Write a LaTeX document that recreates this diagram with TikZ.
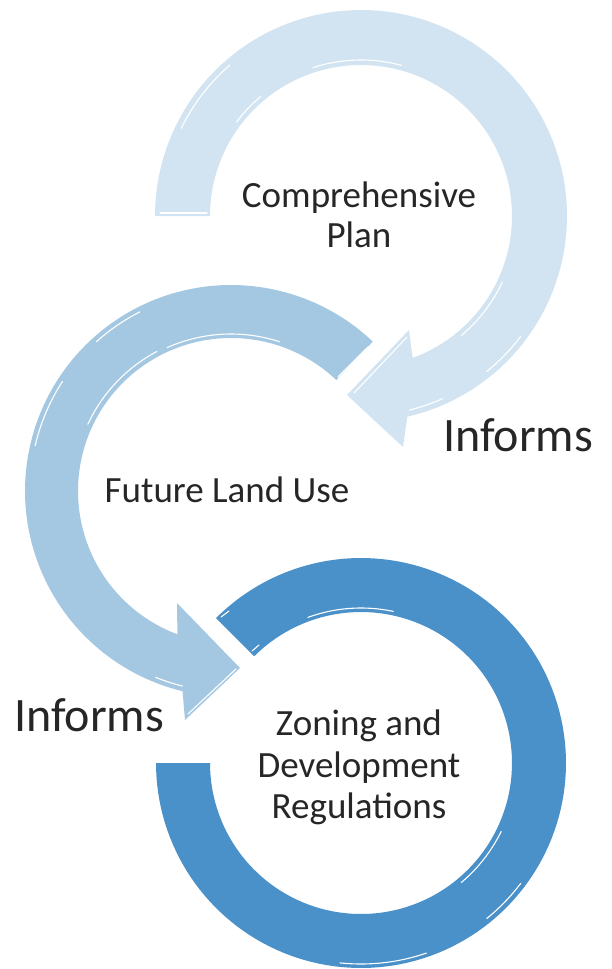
\documentclass[tikz,border=0pt]{standalone}
\usepackage{fontspec}
\setmainfont{Carlito}
\definecolor{topc}{HTML}{D2E4F1}
\definecolor{midc}{HTML}{A5C8E2}
\definecolor{botc}{HTML}{4A90C9}
\definecolor{txt}{HTML}{262626}
\begin{document}
\begin{tikzpicture}[x=1pt,y=-1pt,
  hl/.style={white,line width=1.1pt,line cap=round},
  lbl/.style={text=txt,anchor=base,inner sep=0pt,font=\fontsize{37}{40}\selectfont},
  inf/.style={text=txt,anchor=base,inner sep=0pt,font=\fontsize{48}{52}\selectfont}]
\useasboundingbox (0,0) rectangle (611,969);
% ---------- top arrow ----------
\fill[topc] plot[domain=180:437,samples=120] ({361+206*cos(\x)},{216+206*sin(\x)})
  -- (403,447) -- (347,395) -- (409,330)
  -- plot[domain=430:180,samples=120] ({361+151*cos(\x)},{216+151*sin(\x)}) -- cycle;
\draw[hl] plot[domain=206:229,samples=30] ({361+200*cos(\x)},{216+200*sin(\x)});
\draw[hl] plot[domain=217:230,samples=20] ({361+156*cos(\x)},{216+156*sin(\x)});
\draw[hl] plot[domain=252:285,samples=30] ({361+156*cos(\x)},{216+156*sin(\x)});
\draw[hl] plot[domain=25:50,samples=30] ({361+156*cos(\x)},{216+156*sin(\x)});
\draw[hl] plot[domain=37:51,samples=20] ({361+200*cos(\x)},{216+200*sin(\x)});
\draw[hl] plot[domain=66:76,samples=20] ({361+200*cos(\x)},{216+200*sin(\x)});
\draw[hl] (354,393) -- (407,337);
\draw[hl] (160,213) -- (207,213);
% ---------- middle arrow ----------
\fill[midc] plot[domain=313.5:103.6,samples=120] ({231+206*cos(\x)},{491+206*sin(\x)})
  -- (185,720) -- (240,668) -- (177,603)
  -- plot[domain=110.5:313.5,samples=120] ({231+153*cos(\x)},{491+153*sin(\x)}) -- cycle;
\draw[hl] plot[domain=193:213,samples=30] ({231+201*cos(\x)},{491+201*sin(\x)});
\draw[hl] plot[domain=228:243,samples=20] ({231+201*cos(\x)},{491+201*sin(\x)});
\draw[hl] plot[domain=205:242,samples=30] ({231+158*cos(\x)},{491+158*sin(\x)});
\draw[hl] plot[domain=246:288,samples=30] ({231+157*cos(\x)},{491+157*sin(\x)});
\draw[hl] plot[domain=104:112,samples=20] ({231+201*cos(\x)},{491+201*sin(\x)});
\draw[hl] (338,377) -- (368,347);
\draw[hl] (188,714) -- (236,669);
% ---------- bottom ring ----------
\fill[botc] plot[domain=-135:180,samples=150] ({361+205*cos(\x)},{763+205*sin(\x)})
  -- plot[domain=180:-135,samples=150] ({361+151*cos(\x)},{763+151*sin(\x)}) -- cycle;
\draw[hl] plot[domain=250:282,samples=30] ({361+155*cos(\x)},{763+155*sin(\x)});
\draw[hl] plot[domain=26:50,samples=30] ({361+156*cos(\x)},{763+156*sin(\x)});
\draw[hl] plot[domain=37:51,samples=20] ({361+200*cos(\x)},{763+200*sin(\x)});
\draw[hl] plot[domain=71:96,samples=30] ({361+201*cos(\x)},{763+201*sin(\x)});
\draw[hl] (221,617) -- (229,611);
\draw[hl] (252,651) -- (259,645);
% ---------- labels ----------
\node[lbl] (cp1) at (359,207) {Comprehensive};
\node[lbl] (cp2) at (359,247) {Plan};
\node[lbl] (flu) at (227,502) {Future Land Use};
\node[lbl] (zd1) at (359,735) {Zoning and};
\node[lbl] (zd2) at (359,777) {Development};
\node[lbl] (zd3) at (359,818) {Regulations};
\node[inf] (inf1) at (518,451) {Informs};
\node[inf] (inf2) at (89,731) {Informs};
\end{tikzpicture}
\end{document}
